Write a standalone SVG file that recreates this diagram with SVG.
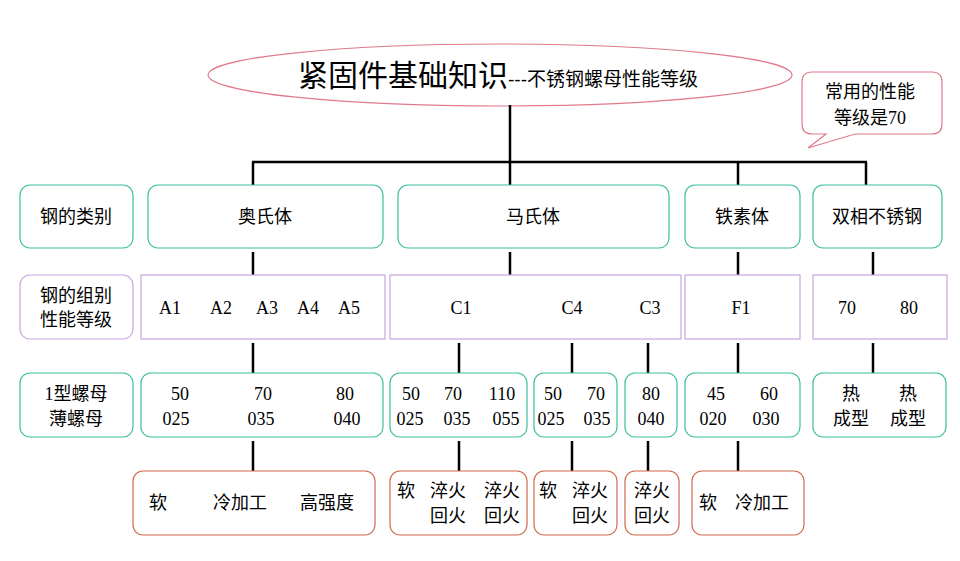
<svg xmlns="http://www.w3.org/2000/svg" width="960" height="561" viewBox="0 0 960 561">
<style>
text{font-family:"Liberation Serif","Noto Sans CJK SC",serif;font-size:18px;fill:#000;text-anchor:middle}
.g{fill:#fff;stroke:#3cbfa0;stroke-width:1.2}
.p{fill:#fff;stroke:#c9a6e0;stroke-width:1.2}
.r{fill:#fff;stroke:#d2694a;stroke-width:1.2}
.c line{stroke:#000;stroke-width:2.5}
</style>
<rect width="960" height="561" fill="#fff"/>
<g id="title"><ellipse cx="500" cy="75" rx="292" ry="31" fill="#fff" stroke="#e07a8c" stroke-width="1.2"/>
<text x="498" y="86" style="font-size:30px"><tspan>紧固件基础知识</tspan><tspan style="font-size:19px;font-family:'Liberation Sans','Noto Sans CJK SC',sans-serif">---不锈钢螺母性能等级</tspan></text></g>
<g id="note"><path d="M812,72 H932 Q942,72 942,82 V124 Q942,134 932,134 H855 L808,148 L826,134 H812 Q802,134 802,124 V82 Q802,72 812,72 Z" fill="#fff" stroke="#e07a8c" stroke-width="1.2"/>
<text x="870" y="98">常用的性能</text><text x="870" y="124">等级是70</text></g>
<g class="c">
<line x1="510" y1="105" x2="510" y2="162"/>
<line x1="252" y1="162" x2="867" y2="162" stroke-width="4"/>
<line x1="253" y1="162" x2="253" y2="185"/><line x1="510" y1="162" x2="510" y2="185"/><line x1="738" y1="162" x2="738" y2="185"/><line x1="866" y1="162" x2="866" y2="185"/>
<line x1="253" y1="252" x2="253" y2="275"/><line x1="510" y1="252" x2="510" y2="275"/><line x1="738" y1="252" x2="738" y2="275"/><line x1="873" y1="252" x2="873" y2="275"/>
<line x1="253" y1="343" x2="253" y2="373"/><line x1="459" y1="343" x2="459" y2="373"/><line x1="572" y1="343" x2="572" y2="373"/><line x1="648" y1="343" x2="648" y2="373"/><line x1="738" y1="343" x2="738" y2="373"/><line x1="873" y1="343" x2="873" y2="373"/>
<line x1="253" y1="441" x2="253" y2="471"/><line x1="459" y1="441" x2="459" y2="471"/><line x1="572" y1="441" x2="572" y2="471"/><line x1="648" y1="441" x2="648" y2="471"/><line x1="738" y1="441" x2="738" y2="471"/>
</g>
<g id="r1a"><rect class="g" x="20" y="185" width="113" height="63" rx="10"/><text x="76" y="223">钢的类别</text></g>
<g id="r1b"><rect class="g" x="148" y="185" width="235" height="63" rx="10"/><text x="265" y="223">奥氏体</text></g>
<g id="r1c"><rect class="g" x="398" y="185" width="271" height="63" rx="10"/><text x="533" y="223">马氏体</text></g>
<g id="r1d"><rect class="g" x="685" y="185" width="115" height="63" rx="10"/><text x="742" y="223">铁素体</text></g>
<g id="r1e"><rect class="g" x="813" y="185" width="129" height="63" rx="10"/><text x="877" y="223">双相不锈钢</text></g>
<g id="r2a"><rect class="p" x="20" y="275" width="113" height="64" rx="10"/><text x="76" y="302">钢的组别</text><text x="76" y="326">性能等级</text></g>
<g id="r2b"><rect class="p" x="141" y="275" width="244" height="64"/><text x="170" y="314">A1</text><text x="221" y="314">A2</text><text x="267" y="314">A3</text><text x="308" y="314">A4</text><text x="349" y="314">A5</text></g>
<g id="r2c"><rect class="p" x="390" y="275" width="291" height="64"/><text x="461" y="314">C1</text><text x="572" y="314">C4</text><text x="650" y="314">C3</text></g>
<g id="r2d"><rect class="p" x="685" y="275" width="115" height="64"/><text x="741" y="314">F1</text></g>
<g id="r2e"><rect class="p" x="813" y="275" width="134" height="64"/><text x="847" y="314">70</text><text x="909" y="314">80</text></g>
<g id="r3a"><rect class="g" x="20" y="373" width="113" height="64" rx="10"/><text x="76" y="400">1型螺母</text><text x="76" y="425">薄螺母</text></g>
<g id="r3b"><rect class="g" x="141" y="373" width="242" height="64" rx="10"/><text x="180" y="400">50</text><text x="263" y="400">70</text><text x="345" y="400">80</text><text x="176" y="425">025</text><text x="261" y="425">035</text><text x="347" y="425">040</text></g>
<g id="r3c"><rect class="g" x="390" y="373" width="137" height="64" rx="10"/><text x="411" y="400">50</text><text x="453" y="400">70</text><text x="502" y="400">110</text><text x="410" y="425">025</text><text x="457" y="425">035</text><text x="506" y="425">055</text></g>
<g id="r3d"><rect class="g" x="534" y="373" width="83" height="64" rx="10"/><text x="553" y="400">50</text><text x="596" y="400">70</text><text x="551" y="425">025</text><text x="597" y="425">035</text></g>
<g id="r3e"><rect class="g" x="625" y="373" width="52" height="64" rx="10"/><text x="651" y="400">80</text><text x="651" y="425">040</text></g>
<g id="r3f"><rect class="g" x="685" y="373" width="115" height="64" rx="10"/><text x="716" y="400">45</text><text x="769" y="400">60</text><text x="713" y="425">020</text><text x="766" y="425">030</text></g>
<g id="r3g"><rect class="g" x="813" y="373" width="133" height="64" rx="10"/><text x="851" y="400">热</text><text x="908" y="400">热</text><text x="851" y="425">成型</text><text x="908" y="425">成型</text></g>
<g id="r4a"><rect class="r" x="133" y="471" width="242" height="64" rx="10"/><text x="158" y="509">软</text><text x="240" y="509">冷加工</text><text x="327" y="509">高强度</text></g>
<g id="r4b"><rect class="r" x="390" y="471" width="137" height="64" rx="10"/><text x="406" y="497">软</text><text x="448" y="497">淬火</text><text x="502" y="497">淬火</text><text x="448" y="522">回火</text><text x="502" y="522">回火</text></g>
<g id="r4c"><rect class="r" x="534" y="471" width="83" height="64" rx="10"/><text x="548" y="497">软</text><text x="590" y="497">淬火</text><text x="590" y="522">回火</text></g>
<g id="r4d"><rect class="r" x="625" y="471" width="54" height="64" rx="10"/><text x="652" y="497">淬火</text><text x="652" y="522">回火</text></g>
<g id="r4e"><rect class="r" x="692" y="471" width="112" height="64" rx="10"/><text x="708" y="509">软</text><text x="762" y="509">冷加工</text></g>
</svg>
